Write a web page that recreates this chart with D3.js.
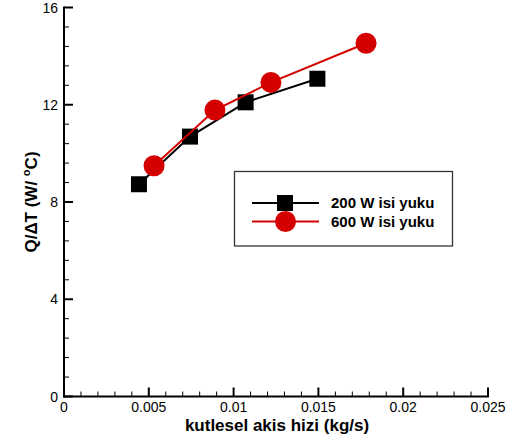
<!DOCTYPE html>
<html>
<head>
<meta charset="utf-8">
<script src="https://cdn.jsdelivr.net/npm/d3@7"></script>
<style>
  body { margin: 0; background: #fff; }
  text { font-family: "Liberation Sans", Arial, sans-serif; }
</style>
</head>
<body>
<svg width="516" height="441"></svg>
<script>
const width = 516,
    height = 441,
    margin = ({ top: 7.5, right: 28, bottom: 44.5, left: 64 });

// data
const flow200 = [0.00442, 0.00743, 0.01071, 0.01494];
const q200 = [8.73, 10.69, 12.10, 13.07];
const flow600 = [0.00531, 0.00890, 0.01220, 0.01781];
const q600 = [9.49, 11.78, 12.92, 14.53];
const xTicks = [0, 0.005, 0.01, 0.015, 0.02, 0.025];
const yTicks = [0, 4, 8, 12, 16];
const seriesNames = ["200 W isi yuku", "600 W isi yuku"];

const svg = d3.select("svg");

const x = d3.scaleLinear().domain([0, 0.025]).range([margin.left, width - margin.right]);
const y = d3.scaleLinear().domain([0, 16]).range([height - margin.bottom, margin.top]);

// minor ticks
const xMinor = d3.range(0, 0.0251, 0.001).filter(v => Math.abs(v / 0.005 - Math.round(v / 0.005)) > 1e-6);
const yMinor = d3.range(0, 16.01, 0.8).filter(v => Math.abs(v / 4 - Math.round(v / 4)) > 1e-6);

const gx = svg.append("g").attr("transform", `translate(0,${y(0)})`);
gx.selectAll(".minor").data(xMinor).join("line")
    .attr("x1", d => x(d)).attr("x2", d => x(d))
    .attr("y1", 0).attr("y2", -5)
    .attr("stroke", "#000").attr("stroke-width", 1);
gx.selectAll(".major").data(xTicks).join("line")
    .attr("x1", d => x(d)).attr("x2", d => x(d))
    .attr("y1", 0).attr("y2", -9)
    .attr("stroke", "#000").attr("stroke-width", 2);
gx.selectAll("text").data(xTicks).join("text")
    .attr("x", d => x(d)).attr("y", 15.5)
    .attr("text-anchor", "middle")
    .attr("font-size", 14)
    .text(d => d3.format("")(d));
gx.append("line")
    .attr("x1", x(0) - 1).attr("x2", x(0.025) + 1)
    .attr("stroke", "#000").attr("stroke-width", 2);

const gy = svg.append("g").attr("transform", `translate(${x(0)},0)`);
gy.selectAll(".minor").data(yMinor).join("line")
    .attr("y1", d => y(d)).attr("y2", d => y(d))
    .attr("x1", 0).attr("x2", 5)
    .attr("stroke", "#000").attr("stroke-width", 1);
gy.selectAll(".major").data(yTicks).join("line")
    .attr("y1", d => y(d)).attr("y2", d => y(d))
    .attr("x1", 0).attr("x2", 9)
    .attr("stroke", "#000").attr("stroke-width", 2);
gy.selectAll("text").data(yTicks).join("text")
    .attr("x", -6).attr("y", d => y(d) + 5)
    .attr("text-anchor", "end")
    .attr("font-size", 14)
    .text(d => d);
gy.append("line")
    .attr("y1", y(16) - 1).attr("y2", y(0) + 1)
    .attr("stroke", "#000").attr("stroke-width", 2);

// axis titles
svg.append("text")
    .attr("x", 277).attr("y", 431)
    .attr("text-anchor", "middle")
    .attr("font-size", 17).attr("font-weight", "bold")
    .text("kutlesel akis hizi (kg/s)");

const ylab = svg.append("text")
    .attr("transform", `translate(37,${(y(0) + y(16)) / 2}) rotate(-90)`)
    .attr("text-anchor", "middle")
    .attr("font-size", 17).attr("font-weight", "bold");
ylab.append("tspan").text("Q/\u0394T (W/ ");
ylab.append("tspan").attr("font-size", 11).attr("dy", -7).text("o");
ylab.append("tspan").attr("dy", 7).text("C)");

// series
const s200 = flow200.map((d, i) => [d, q200[i]]);
const s600 = flow600.map((d, i) => [d, q600[i]]);
const line = d3.line().x(d => x(d[0])).y(d => y(d[1]));

svg.append("path").datum(s200).attr("d", line)
    .attr("fill", "none").attr("stroke", "#000").attr("stroke-width", 2);
svg.selectAll(".sq").data(s200).join("rect")
    .attr("x", d => x(d[0]) - 8).attr("y", d => y(d[1]) - 8)
    .attr("width", 16).attr("height", 16)
    .attr("fill", "#000");

svg.append("path").datum(s600).attr("d", line)
    .attr("fill", "none").attr("stroke", "#d40000").attr("stroke-width", 2);
svg.selectAll(".ci").data(s600).join("circle")
    .attr("cx", d => x(d[0])).attr("cy", d => y(d[1]))
    .attr("r", 10.5)
    .attr("fill", "#d40000");

// legend
const lg = svg.append("g");
lg.append("rect")
    .attr("x", 234.5).attr("y", 171.5)
    .attr("width", 218).attr("height", 74.5)
    .attr("fill", "#fff").attr("stroke", "#333").attr("stroke-width", 1.3);
const rows = [
  { name: seriesNames[0], color: "#000", shape: "square", yy: 203 },
  { name: seriesNames[1], color: "#d40000", shape: "circle", yy: 221.5 }
];
rows.forEach(r => {
  lg.append("line").attr("x1", 252).attr("x2", 319)
      .attr("y1", r.yy).attr("y2", r.yy)
      .attr("stroke", r.color).attr("stroke-width", 2);
  if (r.shape === "square") {
    lg.append("rect").attr("x", 277).attr("y", r.yy - 8)
        .attr("width", 16).attr("height", 16).attr("fill", r.color);
  } else {
    lg.append("circle").attr("cx", 285.5).attr("cy", r.yy)
        .attr("r", 10.5).attr("fill", r.color);
  }
  lg.append("text").attr("x", 331).attr("y", r.yy + 5.3)
      .attr("font-size", 15).attr("font-weight", "bold")
      .text(r.name);
});
</script>
</body>
</html>
